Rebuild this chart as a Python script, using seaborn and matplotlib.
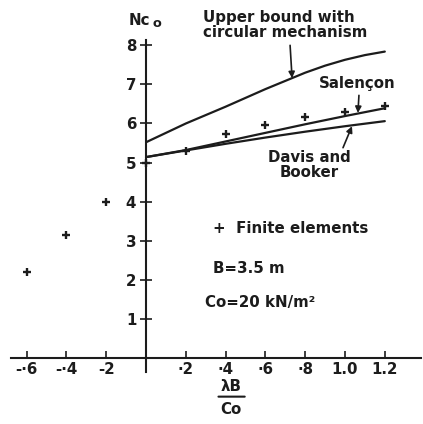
import matplotlib
matplotlib.use("Agg")
import matplotlib.pyplot as plt
import seaborn as sns
import pandas as pd

# finite element results
fe_x = [-0.6, -0.4, -0.2, 0.0, 0.2, 0.4, 0.6, 0.8, 1.0, 1.2]
fe_nc = [2.2, 3.15, 4.0, 5.0, 5.3, 5.73, 5.97, 6.17, 6.3, 6.46]

# upper bound, circular mechanism
ub_x = [0.0, 0.2, 0.4, 0.6, 0.8, 0.9, 1.0, 1.1, 1.2]
ub_nc = [5.52, 6.0, 6.43, 6.88, 7.3, 7.48, 7.63, 7.75, 7.84]

# Salencon
sal_x = [0.0, 0.2, 0.4, 0.6, 0.8, 1.0, 1.2]
sal_nc = [5.14, 5.32, 5.54, 5.76, 5.98, 6.19, 6.39]

# Davis and Booker
db_x = [0.0, 0.2, 0.4, 0.6, 0.8, 1.0, 1.2]
db_nc = [5.14, 5.31, 5.48, 5.64, 5.79, 5.93, 6.06]

xticks = [-0.6, -0.4, -0.2, 0.2, 0.4, 0.6, 0.8, 1.0, 1.2]
xlabels = ["-·6", "-·4", "-2", "·2", "·4", "·6", "·8", "1.0", "1.2"]
yticks = [1, 2, 3, 4, 5, 6, 7, 8]
ylabels = ["1", "2", "3", "4", "5", "6", "7", "8"]

sns.set_style("white")
plt.rcParams["font.family"] = ["DejaVu Sans"]
plt.rcParams["font.weight"] = "bold"

ink = "#1c1c1c"
fs = 10.8

fig = plt.figure(figsize=(4.23, 4.24), dpi=100)
ax = fig.add_axes([0, 0, 1, 1])
ax.set_facecolor("white")

curves = pd.DataFrame({
    "x": ub_x + sal_x + db_x,
    "nc": ub_nc + sal_nc + db_nc,
    "src": ["ub"] * len(ub_x) + ["sal"] * len(sal_x) + ["db"] * len(db_x),
})
sns.lineplot(data=curves, x="x", y="nc", units="src", estimator=None,
             color=ink, lw=1.6, ax=ax)
sns.scatterplot(x=fe_x, y=fe_nc, marker="+", color=ink, s=32,
                linewidth=1.7, ax=ax, zorder=3)

ax.set_xlim(-0.734, 1.392)
ax.set_ylim(-1.69, 9.16)

for side in ["top", "right"]:
    ax.spines[side].set_visible(False)
ax.spines["left"].set_position(("data", 0))
ax.spines["bottom"].set_position(("data", 0))
ax.spines["left"].set_bounds(-0.36, 8.13)
ax.spines["bottom"].set_bounds(-0.68, 1.38)
for side in ["left", "bottom"]:
    ax.spines[side].set_color(ink)
    ax.spines[side].set_linewidth(1.5)

ax.set_xticks(xticks, xlabels)
ax.set_yticks(yticks, ylabels)
ax.tick_params(axis="x", bottom=True, direction="in", length=5, width=1.2,
               pad=3, color=ink, labelsize=fs, labelcolor=ink)
ax.tick_params(axis="y", left=True, direction="inout", length=8, width=1.2,
               pad=3, color=ink, labelsize=fs, labelcolor=ink)
ax.set_xlabel("")
ax.set_ylabel("")

# axis titles
ax.text(0.02, 8.64, "Nc", ha="right", va="center", fontsize=fs, color=ink)
ax.text(0.03, 8.55, "o", ha="left", va="center", fontsize=fs - 1.5, color=ink)
ax.text(0.427, -0.74, "λB", ha="center", va="center", fontsize=fs, color=ink)
ax.annotate("", xy=(0.51, -0.99), xytext=(0.35, -0.99),
            arrowprops=dict(arrowstyle="-", color=ink, lw=1.5))
ax.text(0.427, -1.32, "Co", ha="center", va="center", fontsize=fs, color=ink)

# curve labels
arrow = dict(arrowstyle="-|>", color=ink, lw=1.2, mutation_scale=9,
             shrinkA=0, shrinkB=0)
ax.text(0.286, 8.52, "Upper bound with\ncircular mechanism", ha="left",
        va="center", fontsize=fs, color=ink, linespacing=1.0)
ax.annotate("", xy=(0.734, 7.16), xytext=(0.724, 8.0), arrowprops=arrow)
ax.text(1.06, 7.03, "Salençon", ha="center", va="center", fontsize=fs,
        color=ink)
ax.annotate("", xy=(1.065, 6.27), xytext=(1.07, 6.72), arrowprops=arrow)
ax.text(0.82, 4.93, "Davis and\nBooker", ha="center", va="center",
        fontsize=fs, color=ink, linespacing=1.0)
ax.annotate("", xy=(1.035, 5.93), xytext=(0.99, 5.38), arrowprops=arrow)

# notes
ax.text(0.337, 3.32, "+  Finite elements", ha="left", va="center",
        fontsize=fs, color=ink)
ax.text(0.337, 2.30, "B=3.5 m", ha="left", va="center", fontsize=fs,
        color=ink)
ax.text(0.296, 1.43, "Co=20 kN/m²", ha="left", va="center", fontsize=fs,
        color=ink)

fig.savefig("out.png", dpi=100)
